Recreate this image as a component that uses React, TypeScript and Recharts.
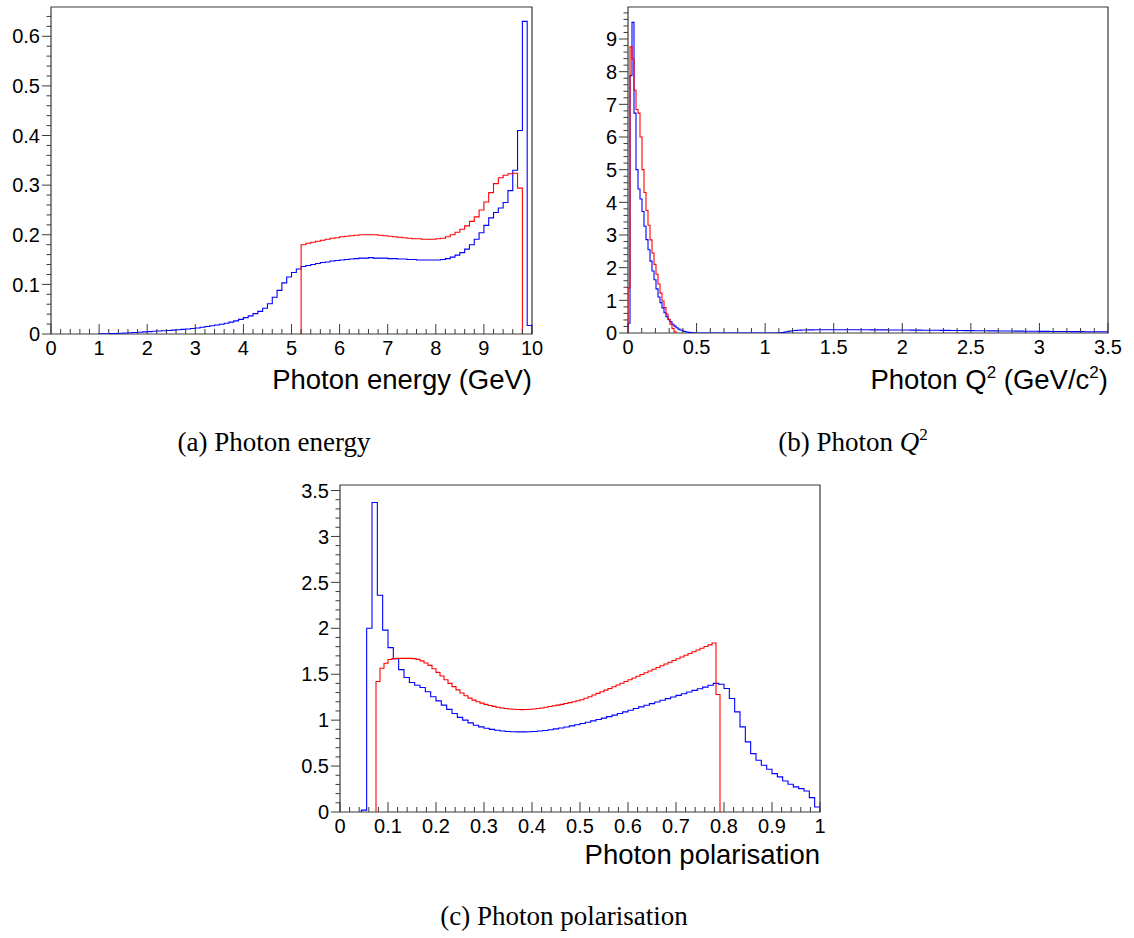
import React from 'react';
import { LineChart, Line, XAxis, YAxis, ReferenceArea } from 'recharts';

// ---------------- data ----------------
// (a) Photon energy, bins of 0.1 GeV
const ENERGY_BIN_WIDTH = 0.1;
const ENERGY_BLUE_FIRST_BIN = 10;
const energyBlue = [
  0.0002, 0.0004, 0.0007, 0.001, 0.0014, 0.0019, 0.0024, 0.003, 0.0036, 0.0042,
  0.0048, 0.0054, 0.006, 0.0066, 0.0072, 0.0079, 0.0086, 0.0094, 0.0102, 0.0111,
  0.012, 0.0135, 0.015, 0.0165, 0.018, 0.0198, 0.0218, 0.024, 0.0265, 0.0295,
  0.033, 0.0365, 0.041, 0.0456, 0.052, 0.061, 0.074, 0.088, 0.103, 0.115,
  0.124, 0.131, 0.136, 0.138, 0.14, 0.142, 0.144, 0.145, 0.147, 0.148,
  0.149, 0.15, 0.151, 0.152, 0.153, 0.153, 0.154, 0.153, 0.153, 0.153,
  0.152, 0.152, 0.151, 0.151, 0.15, 0.15, 0.149, 0.149, 0.149, 0.149,
  0.149, 0.15, 0.152, 0.155, 0.159, 0.164, 0.171, 0.18, 0.191, 0.204,
  0.219, 0.234, 0.245, 0.254, 0.265, 0.289, 0.33, 0.41, 0.63, 0.017,
];
const ENERGY_RED_FIRST_BIN = 52;
const energyRed = [
  0.18, 0.183, 0.185, 0.187, 0.189, 0.191, 0.193, 0.194,
  0.196, 0.197, 0.198, 0.199, 0.2, 0.2, 0.2, 0.2, 0.199, 0.198,
  0.197, 0.196, 0.195, 0.194, 0.193, 0.192, 0.192, 0.191, 0.191, 0.191,
  0.192, 0.193, 0.196, 0.2, 0.205, 0.211, 0.218, 0.227, 0.236, 0.25,
  0.266, 0.285, 0.303, 0.315, 0.32, 0.323, 0.324, 0.294,
];

// (b) Photon Q^2, 240 bins over 0..3.5
const Q2_BIN_WIDTH = 3.5 / 240;
const Q2_BLUE_FIRST_BIN = 0;
const q2Blue = [
  0.3, 7.88, 9.51, 6.73, 5.0, 4.41, 4.1, 3.72, 3.27, 2.86,
  2.55, 2.2, 1.9, 1.63, 1.35, 1.1, 0.93, 0.77, 0.62, 0.5,
  0.41, 0.34, 0.27, 0.21, 0.16, 0.12, 0.09, 0.065, 0.045, 0.03,
  0.02, 0.012, 0.007, 0.004, 0.002, 0, 0, 0, 0, 0,
  0, 0, 0, 0, 0, 0, 0, 0, 0, 0,
  0, 0, 0, 0, 0, 0, 0, 0, 0, 0,
  0, 0, 0, 0, 0, 0, 0, 0, 0, 0,
  0, 0, 0, 0, 0, 0.003, 0.008, 0.016, 0.026, 0.038,
  0.05, 0.06, 0.068, 0.075, 0.08, 0.084, 0.087, 0.09, 0.092, 0.094,
  0.095, 0.096, 0.097, 0.098, 0.098, 0.099, 0.099, 0.1, 0.1, 0.1,
  0.1, 0.101, 0.101, 0.101, 0.101, 0.101, 0.101, 0.101, 0.1, 0.1,
  0.1, 0.1, 0.1, 0.099, 0.099, 0.099, 0.099, 0.098, 0.098, 0.098,
  0.098, 0.097, 0.097, 0.097, 0.096, 0.096, 0.096, 0.095, 0.095, 0.095,
  0.094, 0.094, 0.093, 0.093, 0.093, 0.092, 0.092, 0.091, 0.091, 0.09,
  0.09, 0.089, 0.089, 0.088, 0.088, 0.087, 0.087, 0.086, 0.086, 0.085,
  0.085, 0.084, 0.084, 0.083, 0.083, 0.082, 0.081, 0.081, 0.08, 0.08,
  0.079, 0.078, 0.078, 0.077, 0.077, 0.076, 0.075, 0.075, 0.074, 0.073,
  0.073, 0.072, 0.072, 0.071, 0.07, 0.07, 0.069, 0.068, 0.068, 0.067,
  0.066, 0.066, 0.065, 0.065, 0.064, 0.063, 0.063, 0.062, 0.061, 0.061,
  0.06, 0.06, 0.059, 0.058, 0.058, 0.057, 0.057, 0.056, 0.055, 0.055,
  0.054, 0.054, 0.053, 0.053, 0.052, 0.051, 0.051, 0.05, 0.05, 0.049,
  0.049, 0.048, 0.048, 0.047, 0.047, 0.046, 0.046, 0.045, 0.045, 0.044,
  0.044, 0.043, 0.043, 0.042, 0.042, 0.042, 0.041, 0.041, 0.04, 0.04,
  0.04, 0.039, 0.039, 0.039, 0.038, 0.038, 0.038, 0.037, 0.037, 0.037,
];
const Q2_RED_FIRST_BIN = 0;
const q2Red = [
  1.38, 8.76, 8.39, 7.43, 6.84, 6.73, 6.0, 5.0, 4.3, 3.75,
  3.3, 2.85, 2.45, 2.1, 1.8, 1.5, 1.22, 0.98, 0.78, 0.58,
  0.42, 0.27, 0.14, 0.04,
];

// (c) Photon polarisation
const POL_BLUE_BIN_WIDTH = 1 / 90;
const POL_BLUE_FIRST_BIN = 4;
const polBlue = [
  0.02, 2.0, 3.37, 2.36, 1.98, 1.79, 1.67, 1.55, 1.465, 1.41,
  1.38, 1.356, 1.309, 1.254, 1.21, 1.163, 1.117, 1.073, 1.03, 1.0,
  0.97, 0.945, 0.927, 0.912, 0.9, 0.89, 0.882, 0.877, 0.874, 0.872,
  0.872, 0.874, 0.877, 0.882, 0.888, 0.895, 0.905, 0.915, 0.926, 0.938,
  0.95, 0.963, 0.977, 0.992, 1.007, 1.022, 1.038, 1.055, 1.072, 1.09,
  1.108, 1.126, 1.144, 1.162, 1.18, 1.198, 1.216, 1.234, 1.252, 1.27,
  1.288, 1.306, 1.324, 1.342, 1.36, 1.38, 1.4, 1.39, 1.345, 1.236,
  1.09, 0.927, 0.763, 0.636, 0.564, 0.509, 0.465, 0.418, 0.382, 0.338,
  0.302, 0.273, 0.255, 0.229, 0.157, 0.055,
];
const POL_RED_BIN_WIDTH = 1 / 120;
const POL_RED_FIRST_BIN = 9;
const polRed = [
  1.42, 1.565, 1.62, 1.66, 1.67, 1.672, 1.673, 1.673, 1.672, 1.67,
  1.662, 1.645, 1.622, 1.596, 1.56, 1.52, 1.48, 1.44, 1.4, 1.365,
  1.33, 1.296, 1.265, 1.24, 1.218, 1.2, 1.185, 1.172, 1.16, 1.15,
  1.141, 1.133, 1.127, 1.122, 1.118, 1.116, 1.115, 1.116, 1.118, 1.122,
  1.127, 1.133, 1.14, 1.148, 1.156, 1.164, 1.172, 1.181, 1.191, 1.201,
  1.211, 1.222, 1.238, 1.255, 1.273, 1.291, 1.309, 1.327, 1.345, 1.364,
  1.383, 1.402, 1.421, 1.44, 1.459, 1.478, 1.497, 1.516, 1.535, 1.554,
  1.573, 1.592, 1.611, 1.63, 1.649, 1.668, 1.687, 1.706, 1.725, 1.744,
  1.763, 1.782, 1.801, 1.82, 1.84, 1.28,
];

// axis tick labels
const energyXMajor = [0, 1, 2, 3, 4, 5, 6, 7, 8, 9, 10];
const energyYMajor = [0, 0.1, 0.2, 0.3, 0.4, 0.5, 0.6];
const q2XMajor = [0, 0.5, 1, 1.5, 2, 2.5, 3, 3.5];
const q2YMajor = [0, 1, 2, 3, 4, 5, 6, 7, 8, 9];
const polXMajor = [0, 0.1, 0.2, 0.3, 0.4, 0.5, 0.6, 0.7, 0.8, 0.9, 1];
const polYMajor = [0, 0.5, 1, 1.5, 2, 2.5, 3, 3.5];

// ---------------- styling ----------------
const BLUE = '#0000ff';
const RED = '#ff0000';
const AXIS = '#3a3a3a';
const SANS = '"Liberation Sans", Arial, Helvetica, sans-serif';
const SERIF = '"Liberation Serif", "Times New Roman", Times, serif';
const TICK_FONT = 20;

type Pt = { x: number; y: number };

function histPoints(values: number[], firstBin: number, width: number): Pt[] {
  const pts: Pt[] = [{ x: firstBin * width, y: 0 }];
  values.forEach((v, i) => pts.push({ x: (firstBin + i) * width, y: v }));
  pts.push({ x: (firstBin + values.length) * width, y: 0 });
  return pts;
}

function buildTicks(major: number[], ndiv: number, lo: number, hi: number): number[] {
  const step = (major[1] - major[0]) / ndiv;
  const out: number[] = [];
  const k0 = Math.ceil((lo - major[0]) / step - 1e-9);
  for (let k = k0; major[0] + k * step <= hi + 1e-9; k++) {
    out.push(Number((major[0] + k * step).toFixed(6)));
  }
  return out;
}

const isMajor = (v: number, major: number[]) => major.some((m) => Math.abs(m - v) < 1e-6);

const XTick = (props: any) => {
  const { x, y, payload, major } = props;
  const maj = isMajor(payload.value, major);
  return (
    <g>
      <line x1={x} x2={x} y1={y} y2={y - (maj ? 10 : 5)} stroke={AXIS} strokeWidth={1} />
      {maj && (
        <text x={x} y={y + 20.5} textAnchor="middle" fontSize={TICK_FONT} fontFamily={SANS} fill="#000">
          {String(payload.value)}
        </text>
      )}
    </g>
  );
};

const YTick = (props: any) => {
  const { x, y, payload, major } = props;
  const maj = isMajor(payload.value, major);
  return (
    <g>
      <line x1={x} x2={x - (maj ? 9 : 4.5)} y1={y} y2={y} stroke={AXIS} strokeWidth={1} />
      {maj && (
        <text x={x - 11} y={y} dy="0.36em" textAnchor="end" fontSize={TICK_FONT} fontFamily={SANS} fill="#000">
          {String(payload.value)}
        </text>
      )}
    </g>
  );
};

type Series = { points: Pt[]; color: string };

function Histo(p: {
  left: number; top: number; width: number; height: number;
  marginTop: number; marginRight: number; yAxisWidth: number; xAxisHeight: number;
  xDomain: [number, number]; yDomain: [number, number];
  xMajor: number[]; xDiv: number; yMajor: number[]; yDiv: number;
  series: Series[];
}) {
  const xTicks = buildTicks(p.xMajor, p.xDiv, p.xDomain[0], p.xDomain[1]);
  const yTicks = buildTicks(p.yMajor, p.yDiv, p.yDomain[0], p.yDomain[1]);
  return (
    <div style={{ position: 'absolute', left: p.left, top: p.top, width: p.width, height: p.height }}>
      <LineChart
        width={p.width}
        height={p.height}
        margin={{ top: p.marginTop, right: p.marginRight, left: 0, bottom: 0 }}
      >
        <XAxis
          type="number"
          dataKey="x"
          domain={p.xDomain}
          ticks={xTicks}
          interval={0}
          allowDataOverflow
          axisLine={false}
          tickLine={false}
          tickSize={0}
          tickMargin={0}
          height={p.xAxisHeight}
          tick={(tp: any) => <XTick {...tp} major={p.xMajor} />}
        />
        <YAxis
          type="number"
          domain={p.yDomain}
          ticks={yTicks}
          interval={0}
          allowDataOverflow
          axisLine={false}
          tickLine={false}
          tickSize={0}
          tickMargin={0}
          width={p.yAxisWidth}
          tick={(tp: any) => <YTick {...tp} major={p.yMajor} />}
        />
        {p.series.map((s, i) => (
          <Line
            key={i}
            data={s.points}
            dataKey="y"
            type="stepAfter"
            stroke={s.color}
            strokeWidth={1.1}
            dot={false}
            activeDot={false}
            isAnimationActive={false}
          />
        ))}
        <ReferenceArea
          x1={p.xDomain[0]}
          x2={p.xDomain[1]}
          y1={p.yDomain[0]}
          y2={p.yDomain[1]}
          fill="none"
          fillOpacity={0}
          stroke={AXIS}
          strokeWidth={1.2}
          ifOverflow="visible"
        />
      </LineChart>
    </div>
  );
}

export default function App() {
  const energySeries: Series[] = [
    { points: histPoints(energyBlue, ENERGY_BLUE_FIRST_BIN, ENERGY_BIN_WIDTH), color: BLUE },
    { points: histPoints(energyRed, ENERGY_RED_FIRST_BIN, ENERGY_BIN_WIDTH), color: RED },
  ];
  const q2Series: Series[] = [
    { points: histPoints(q2Blue, Q2_BLUE_FIRST_BIN, Q2_BIN_WIDTH), color: BLUE },
    { points: histPoints(q2Red, Q2_RED_FIRST_BIN, Q2_BIN_WIDTH), color: RED },
  ];
  const polSeries: Series[] = [
    { points: histPoints(polBlue, POL_BLUE_FIRST_BIN, POL_BLUE_BIN_WIDTH), color: BLUE },
    { points: histPoints(polRed, POL_RED_FIRST_BIN, POL_RED_BIN_WIDTH), color: RED },
  ];

  return (
    <div style={{ position: 'absolute', left: 0, top: 0, width: 1134, height: 938, background: '#fff', overflow: 'hidden' }}>
      <Histo
        left={0} top={0} width={560} height={400}
        marginTop={7} marginRight={28} yAxisWidth={51} xAxisHeight={66}
        xDomain={[0, 10]} yDomain={[0, 0.659]}
        xMajor={energyXMajor} xDiv={5} yMajor={energyYMajor} yDiv={5}
        series={energySeries}
      />
      <Histo
        left={560} top={0} width={574} height={400}
        marginTop={7} marginRight={26} yAxisWidth={68} xAxisHeight={67}
        xDomain={[0, 3.5]} yDomain={[0, 9.98]}
        xMajor={q2XMajor} xDiv={5} yMajor={q2YMajor} yDiv={5}
        series={q2Series}
      />
      <Histo
        left={280} top={470} width={570} height={430}
        marginTop={15} marginRight={30} yAxisWidth={60} xAxisHeight={88}
        xDomain={[0, 1]} yDomain={[0, 3.56]}
        xMajor={polXMajor} xDiv={5} yMajor={polYMajor} yDiv={5}
        series={polSeries}
      />
      <svg
        width={1134}
        height={938}
        style={{ position: 'absolute', left: 0, top: 0, pointerEvents: 'none' }}
      >
        <text x={532} y={389} textAnchor="end" fontSize={27.5} fontFamily={SANS} fill="#000">
          Photon energy (GeV)
        </text>
        <text x={1108} y={389} textAnchor="end" fontSize={27.5} fontFamily={SANS} fill="#000">
          Photon Q<tspan fontSize={17} dy={-11}>2</tspan>
          <tspan dy={11}> (GeV/c</tspan>
          <tspan fontSize={17} dy={-11}>2</tspan>
          <tspan dy={11}>)</tspan>
        </text>
        <text x={820} y={864} textAnchor="end" fontSize={27.5} fontFamily={SANS} fill="#000">
          Photon polarisation
        </text>
        <text x={274} y={451} textAnchor="middle" fontSize={27} fontFamily={SERIF} fill="#000">
          (a) Photon energy
        </text>
        <text x={853} y={451} textAnchor="middle" fontSize={27} fontFamily={SERIF} fill="#000">
          (b) Photon <tspan fontStyle="italic">Q</tspan>
          <tspan fontSize={17} dy={-11}>2</tspan>
        </text>
        <text x={564} y={925} textAnchor="middle" fontSize={27} fontFamily={SERIF} fill="#000">
          (c) Photon polarisation
        </text>
      </svg>
    </div>
  );
}
